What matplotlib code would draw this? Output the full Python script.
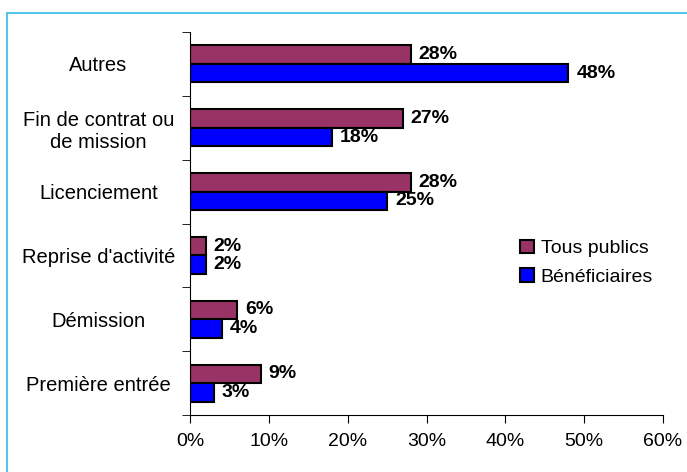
import matplotlib.pyplot as plt
import numpy as np
from matplotlib.patches import Rectangle
from matplotlib.ticker import PercentFormatter

plt.rcParams["font.family"] = ["Liberation Sans", "DejaVu Sans"]

categories = ["Première entrée", "Démission", "Reprise d'activité",
              "Licenciement", "Fin de contrat ou\nde mission", "Autres"]
tous_publics = [9, 6, 2, 28, 27, 28]
beneficiaires = [3, 4, 2, 25, 18, 48]
series_names = ["Tous publics", "Bénéficiaires"]
colors = ["#993366", "#0000FF"]

fig = plt.figure(figsize=(6.87, 4.72), dpi=100)
ax = fig.add_axes([190 / 687, 1 - 415 / 472, 473 / 687, 383 / 472])

# cyan frame round the chart area
fig.patches.append(Rectangle((7 / 687, -0.1), 2, 1 - 13 / 472 + 0.1,
                             transform=fig.transFigure, fill=False,
                             edgecolor="#33BBE8", linewidth=1.2))

y = np.arange(len(categories))
h = 0.29
b1 = ax.barh(y + h / 2, tous_publics, height=h, color=colors[0],
             edgecolor="black", linewidth=1.5, label=series_names[0])
b2 = ax.barh(y - h / 2, beneficiaires, height=h, color=colors[1],
             edgecolor="black", linewidth=1.5, label=series_names[1])

for bars, vals in ((b1, tous_publics), (b2, beneficiaires)):
    for bar, v in zip(bars, vals):
        ax.text(v + 1.0, bar.get_y() + bar.get_height() / 2, f"{v}%",
                va="center", ha="left", fontsize=14, fontweight="bold")

ax.set_xlim(0, 60)
ax.set_ylim(-0.5, len(categories) - 0.5)
ax.xaxis.set_major_formatter(PercentFormatter(decimals=0))
ax.set_xticks(np.arange(0, 61, 10))
ax.set_yticks(y)
ax.set_yticklabels(categories, ha="center")
ax.set_yticks(np.arange(-0.5, len(categories), 1), minor=True)
ax.tick_params(axis="y", which="major", length=0, pad=66, labelsize=14.5)
ax.tick_params(axis="y", which="minor", length=6, direction="out")
ax.tick_params(axis="x", length=6, direction="out", labelsize=14, pad=7)

for s in ("top", "right"):
    ax.spines[s].set_visible(False)

ax.legend(loc="center left", bbox_to_anchor=(0.698, 0.398), frameon=False,
          fontsize=14, handlelength=0.7, handleheight=0.7, handletextpad=0.35,
          labelspacing=0.55, borderpad=0, borderaxespad=0)

fig.savefig("out.png", dpi=100)
